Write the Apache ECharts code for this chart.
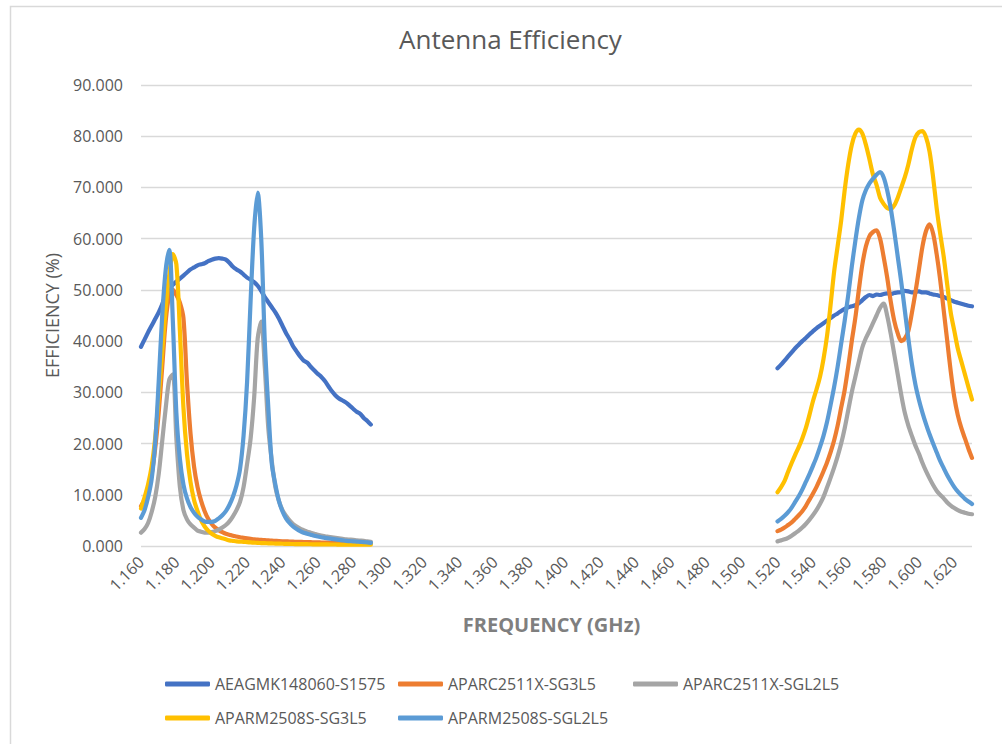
<!DOCTYPE html>
<html><head><meta charset="utf-8">
<script src="https://cdn.jsdelivr.net/npm/echarts@6/dist/echarts.min.js"></script>
<style>html,body{margin:0;padding:0;background:#fff}#c{width:1002px;height:744px}</style>
</head><body><div id="c"></div>
<script>
// Frequencies (GHz)
const freqLow = [1.160,1.162,1.164,1.166,1.168,1.170,1.172,1.174,1.176,1.178,
  1.180,1.182,1.184,1.186,1.188,1.190,1.192,1.194,1.196,1.198,
  1.200,1.202,1.204,1.206,1.208,1.210,1.212,1.214,1.216,1.218,
  1.220,1.222,1.224,1.226,1.228,1.230,1.232,1.234,1.236,1.238,
  1.240,1.242,1.244,1.246,1.248,1.250,1.252,1.254,1.256,1.258,
  1.260,1.262,1.264,1.266,1.268,1.270,1.272,1.274,1.276,1.278,
  1.280,1.282,1.284,1.286,1.288,1.290];
const freqHigh = [1.520,1.522,1.524,1.526,1.528,1.530,1.532,1.534,1.536,1.538,
  1.540,1.542,1.544,1.546,1.548,1.550,1.552,1.554,1.556,1.558,
  1.560,1.562,1.564,1.566,1.568,1.570,1.572,1.574,1.576,1.578,
  1.580,1.582,1.584,1.586,1.588,1.590,1.592,1.594,1.596,1.598,
  1.600,1.602,1.604,1.606,1.608,1.610,1.612,1.614,1.616,1.618,
  1.620,1.622,1.624,1.626,1.628,1.630];

const seriesNames = ['AEAGMK148060-S1575','APARC2511X-SG3L5','APARC2511X-SGL2L5','APARM2508S-SG3L5','APARM2508S-SGL2L5'];

// Efficiency (%)
const aeagmkLow = [38.9,40.3,41.7,43.0,44.3,45.6,47.2,49.0,50.2,51.0,
  51.6,52.2,52.8,53.4,54.0,54.4,54.8,55.0,55.2,55.6,
  55.9,56.1,56.2,56.1,55.9,55.3,54.5,54.0,53.6,53.0,
  52.4,52.0,51.5,50.8,49.8,48.6,47.6,46.6,45.6,44.4,
  43.0,41.6,40.4,39.0,38.0,37.0,36.2,35.8,35.0,34.3,
  33.6,33.0,32.2,31.2,30.2,29.4,28.8,28.4,28.0,27.4,
  26.8,26.2,25.8,25.0,24.4,23.7];
const aeagmkHigh = [34.7,35.4,36.2,37.0,37.8,38.6,39.3,40.0,40.6,41.3,
  41.9,42.5,43.0,43.5,44.0,44.5,45.0,45.4,45.9,46.3,
  46.6,46.8,47.0,47.4,48.0,48.6,49.0,48.8,49.1,49.0,
  49.2,49.3,49.2,49.4,49.5,49.6,49.8,49.7,49.5,49.6,
  49.7,49.5,49.5,49.3,49.1,49.0,48.8,48.6,48.3,48.0,
  47.7,47.5,47.3,47.1,46.9,46.8];

const sg3l5Low = [7.8,9.0,11.0,14.0,19.0,26.0,35.0,44.0,49.0,50.0,
  49.0,47.5,44.5,32.0,22.0,15.5,11.5,8.8,6.8,5.3,
  4.3,3.6,3.1,2.7,2.4,2.2,2.0,1.85,1.7,1.6,
  1.5,1.4,1.3,1.25,1.2,1.15,1.1,1.05,1.0,0.95,
  0.92,0.9,0.88,0.85,0.82,0.8,0.78,0.76,0.74,0.72,
  0.7,0.68,0.66,0.64,0.62,0.6,0.59,0.58,0.57,0.56,
  0.55,0.54,0.53,0.52,0.51,0.5];
const sg3l5High = [2.9,3.2,3.6,4.1,4.6,5.3,6.0,6.8,7.8,9.0,
  10.2,11.5,13.0,14.6,16.3,18.3,20.6,23.5,27.0,30.5,
  35.0,40.0,44.5,50.0,55.0,58.5,60.5,61.3,61.6,60.0,
  56.5,52.5,47.8,44.0,41.5,40.0,40.5,42.0,45.5,49.5,
  54.0,58.5,61.5,62.8,61.0,57.0,52.0,46.0,40.0,34.0,
  29.0,25.5,23.0,21.0,19.0,17.2];

const sgl2l5Low = [2.6,3.3,4.5,6.6,9.5,14.0,20.5,27.0,32.5,33.5,
  21.0,11.5,7.0,5.2,4.2,3.6,3.0,2.8,2.6,2.6,
  2.7,2.9,3.2,3.6,4.1,4.8,5.8,7.0,8.6,11.5,
  16.0,21.0,29.0,40.5,43.8,35.0,23.0,16.5,11.5,8.8,
  7.0,5.9,5.0,4.3,3.8,3.4,3.1,2.8,2.6,2.4,
  2.2,2.05,1.9,1.8,1.7,1.6,1.5,1.4,1.3,1.25,
  1.2,1.1,1.05,1.0,0.9,0.8];
const sgl2l5High = [0.9,1.1,1.3,1.6,2.0,2.5,3.0,3.6,4.3,5.1,
  6.0,7.0,8.2,9.6,11.4,13.3,15.3,17.5,20.0,23.0,
  26.5,30.0,33.0,36.0,38.8,40.6,42.0,43.5,45.0,46.5,
  47.3,45.0,41.5,37.5,33.5,29.5,26.0,23.5,21.5,19.6,
  18.0,16.2,14.6,13.2,11.9,10.8,10.0,9.3,8.5,7.9,
  7.4,7.0,6.7,6.5,6.3,6.2];

const armSg3l5Low = [7.3,9.5,12.0,15.5,21.0,29.0,38.0,46.5,53.0,57.0,
  55.0,42.0,27.0,18.0,12.5,9.0,6.8,5.0,3.8,3.0,
  2.4,2.0,1.7,1.5,1.3,1.1,1.0,0.9,0.85,0.8,
  0.75,0.7,0.65,0.6,0.58,0.55,0.52,0.5,0.48,0.46,
  0.44,0.42,0.4,0.39,0.38,0.37,0.36,0.35,0.34,0.33,
  0.32,0.31,0.3,0.3,0.29,0.29,0.28,0.28,0.27,0.27,
  0.26,0.26,0.25,0.25,0.25,0.25];
const armSg3l5High = [10.5,11.5,12.7,14.5,16.2,17.8,19.3,21.0,23.0,25.5,
  28.2,30.5,33.0,36.5,41.0,47.0,53.5,58.5,63.5,69.5,
  74.5,78.3,80.5,81.3,80.5,78.3,75.5,72.5,70.5,68.0,
  66.8,66.0,65.8,66.5,68.0,70.0,72.0,74.5,77.5,79.8,
  80.8,81.0,79.8,77.0,72.0,66.0,61.0,56.5,51.0,45.5,
  42.0,38.5,36.0,33.5,31.0,28.6];

const armSgl2l5Low = [5.5,7.0,9.5,13.0,20.0,32.0,45.0,54.0,57.8,44.0,
  26.0,17.0,12.0,9.3,7.6,6.5,5.7,5.2,4.8,4.7,
  4.7,4.9,5.4,6.0,6.8,8.0,9.6,11.8,15.0,21.5,
  32.0,48.0,62.0,69.0,60.0,40.0,27.0,16.0,12.0,8.8,
  6.8,5.4,4.5,3.8,3.3,2.9,2.6,2.4,2.2,2.0,
  1.85,1.7,1.6,1.5,1.4,1.3,1.2,1.1,1.0,0.95,
  0.9,0.85,0.8,0.75,0.7,0.6];
const armSgl2l5High = [4.8,5.3,5.9,6.6,7.5,8.6,9.7,11.0,12.5,14.0,
  15.6,17.3,19.3,21.5,24.2,27.5,31.0,35.0,39.5,44.0,
  49.0,54.5,59.5,64.0,67.5,69.5,70.8,71.7,72.5,73.0,
  72.0,69.5,66.0,61.5,56.5,51.5,46.0,40.5,35.5,31.5,
  28.5,26.0,23.8,21.8,20.0,18.3,16.6,15.2,13.8,12.6,
  11.5,10.6,9.9,9.2,8.7,8.2];

const seriesColors = ['#4472C4','#ED7D31','#A5A5A5','#FFC000','#5B9BD5'];
const lowSets = [aeagmkLow, sg3l5Low, sgl2l5Low, armSg3l5Low, armSgl2l5Low];
const highSets = [aeagmkHigh, sg3l5High, sgl2l5High, armSg3l5High, armSgl2l5High];

function build(lo, hi) {
  const d = freqLow.map((f, i) => [f, lo[i]]);
  d.push([1.405, '-']);
  return d.concat(freqHigh.map((f, i) => [f, hi[i]]));
}

const FONT = 'Open Sans';
const chart = echarts.init(document.getElementById('c'), null, {renderer: 'svg'});

const legendPos = [[165, 676], [398, 676], [633, 676], [165, 710], [398, 710]];

const option = {
  animation: false,
  backgroundColor: '#ffffff',
  title: {
    text: 'Antenna Efficiency', left: 399, top: 26, padding: 0,
    textStyle: {fontFamily: FONT, fontSize: 26, fontWeight: 'normal', color: '#595959'}
  },
  graphic: [{
    type: 'rect', silent: true, z: -1,
    shape: {x: 10.5, y: 6.5, width: 1100, height: 800},
    style: {fill: 'none', stroke: '#d9d9d9', lineWidth: 1.5}
  }],
  legend: seriesNames.map((n, i) => ({
    data: [n], left: legendPos[i][0], top: legendPos[i][1], padding: 0,
    icon: 'roundRect', itemWidth: 45, itemHeight: 5,
    textStyle: {fontFamily: FONT, fontSize: 16, color: '#595959'}
  })),
  grid: {left: 141, right: 30, top: 85, bottom: 198},
  xAxis: {
    type: 'value', min: 1.16, max: 1.63, interval: 0.02,
    axisLine: {show: false}, axisTick: {show: false}, splitLine: {show: false},
    axisLabel: {
      rotate: 45, margin: 13, color: '#595959', fontSize: 16, fontFamily: FONT,
      showMaxLabel: false, formatter: v => v.toFixed(3)
    },
    name: 'FREQUENCY (GHz)', nameLocation: 'middle', nameGap: 68,
    nameTextStyle: {fontFamily: FONT, fontSize: 20, fontWeight: 'bold', color: '#7f7f7f', padding: [0, 10, 0, 0]}
  },
  yAxis: {
    type: 'value', min: 0, max: 90, interval: 10,
    axisLine: {show: false}, axisTick: {show: false},
    splitLine: {lineStyle: {color: '#d9d9d9', width: 1.3}},
    axisLabel: {margin: 18, color: '#595959', fontSize: 16, fontFamily: FONT, formatter: v => v.toFixed(3)},
    name: 'EFFICIENCY (%)', nameLocation: 'middle', nameGap: 80,
    nameTextStyle: {fontFamily: FONT, fontSize: 18, color: '#595959'}
  },
  series: seriesNames.map((n, i) => ({
    name: n, type: 'line', showSymbol: false, symbol: 'none', smooth: 0.3,
    connectNulls: false,
    itemStyle: {color: seriesColors[i]},
    lineStyle: {color: seriesColors[i], width: 4.2, cap: 'round', join: 'round'},
    data: build(lowSets[i], highSets[i])
  }))
};
chart.setOption(option);
</script></body></html>
